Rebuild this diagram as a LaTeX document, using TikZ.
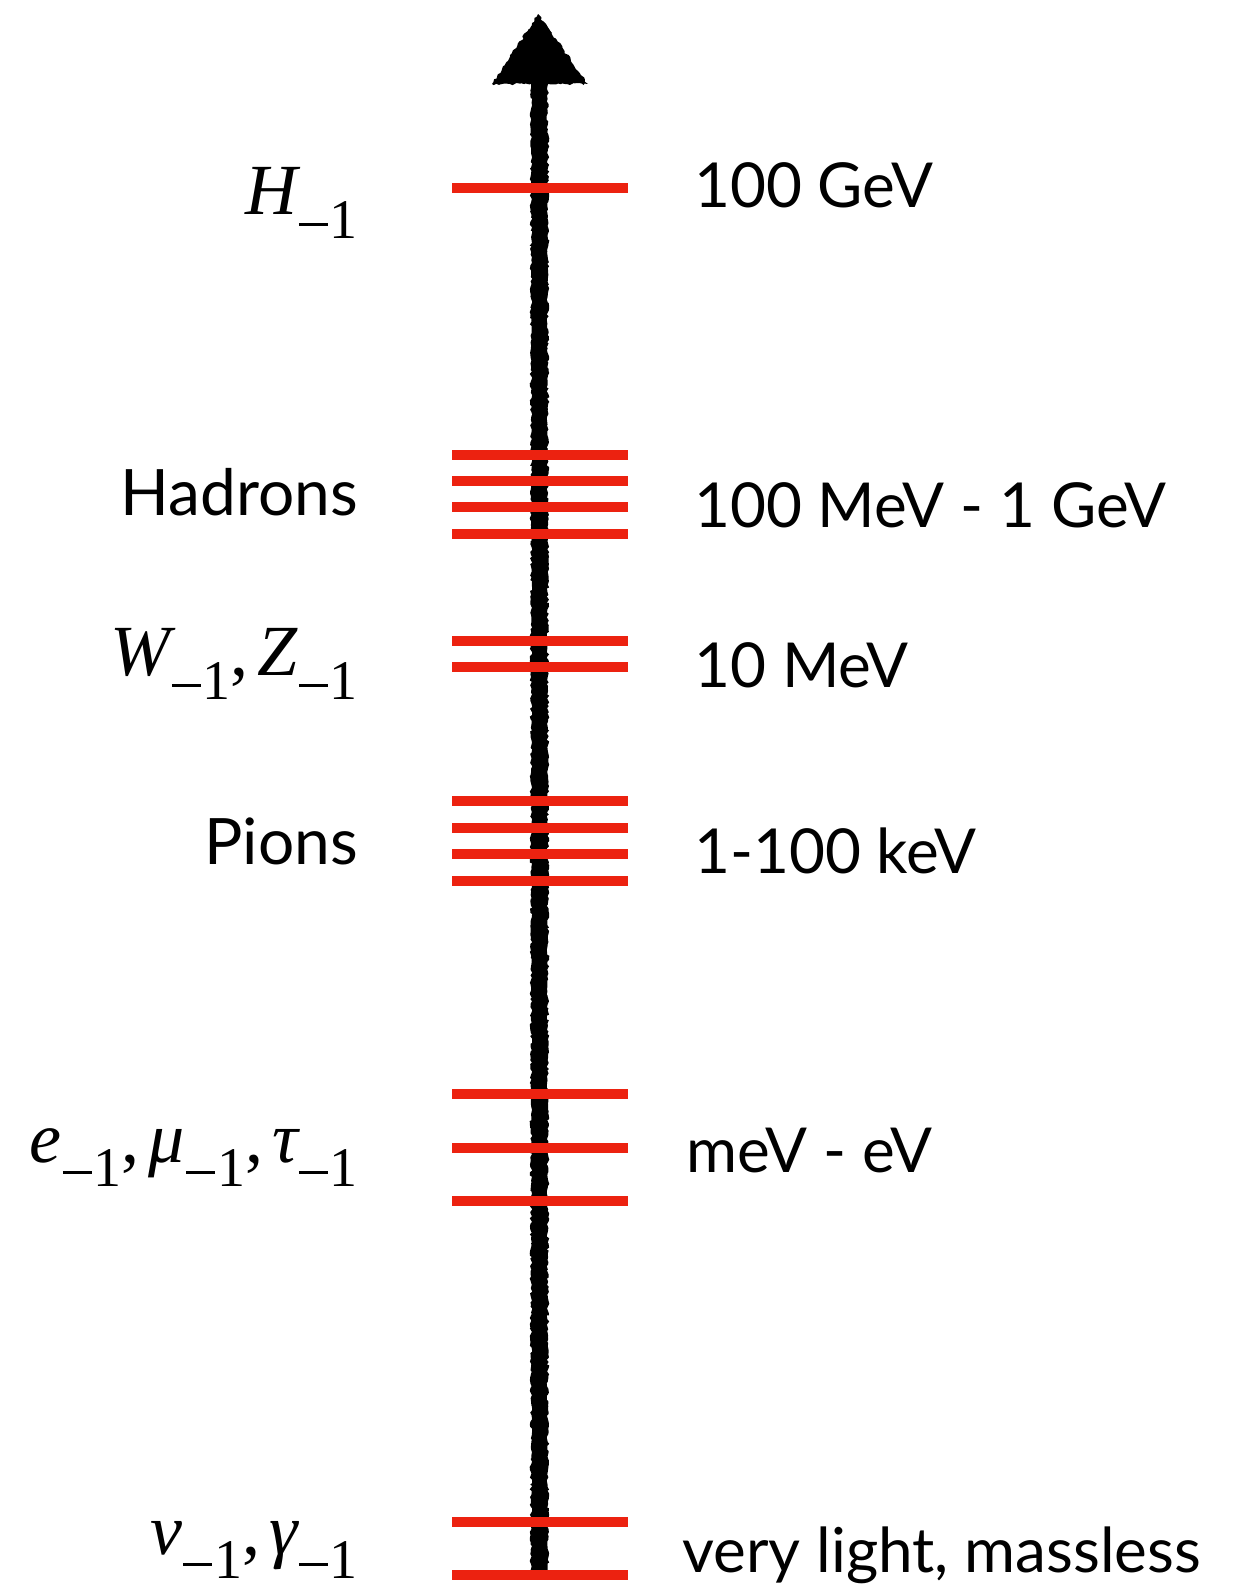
\documentclass[tikz,border=0pt]{standalone}
\usepackage{fontspec}
\setmainfont{Lato}
\newfontfamily\tmfont{Liberation Serif}
\usetikzlibrary{decorations.pathmorphing}
\definecolor{lvl}{RGB}{236,34,16}
\newcommand\Msub{\raisebox{-24pt}{\kern1pt\rule[12pt]{29pt}{3pt}\kern2pt{\tmfont\fontsize{56}{56}\selectfont 1}}}
\newcommand\mi[1]{{\tmfont\fontsize{72}{72}\selectfont\itshape #1}}
\newcommand\mcomma{{\tmfont\fontsize{72}{72}\selectfont,}\kern9pt}
\tikzset{
  lvlline/.style={draw=lvl, line width=10pt},
  rlab/.style={anchor=base west, inner sep=0pt, font=\fontsize{62}{74}\selectfont},
  llab/.style={anchor=base east, inner sep=0pt, font=\fontsize{64}{76}\selectfont},
  roughfill/.style={fill=black, decorate, decoration={random steps, segment length=2.5pt, amplitude=1.3pt}},
}
\begin{document}
\begin{tikzpicture}[x=1pt,y=-1pt]
\useasboundingbox (0,0) rectangle (1244,1584);
\pgfmathsetseed{7}
% rough arrow
\fill[roughfill] (531,1572) -- (531,84) -- (492,84) -- (538,14) -- (588,84) -- (548,84) -- (548,1572) -- cycle;
% levels
\foreach \yy in {188, 455,481,507,534, 641,667, 801,828,854,881, 1094,1148,1201, 1522,1575}
  \draw[lvlline] (452,\yy) -- (628,\yy);
% left labels
\node[llab] (lh) at (358,214) {\mi{H}\Msub};
\node[llab] (lhad) at (358,515) {Hadrons};
\node[llab] (lwz) at (358,675) {\mi{W}\Msub\mcomma\mi{Z}\Msub};
\node[llab] (lpi) at (358,864) {Pions};
\node[llab] (llep) at (358,1162) {\mi{e}\Msub\mcomma\mi{μ}\Msub\mcomma\mi{τ}\Msub};
\node[llab] (lnu) at (358,1554) {\mi{ν}\Msub\mcomma\mi{γ}\Msub};
% right labels
\node[rlab] (r1) at (694,207) {100 GeV};
\node[rlab] (r2) at (694,527) {100 MeV - 1 GeV};
\node[rlab] (r3) at (694,687) {10 MeV};
\node[rlab] (r4) at (694,873) {1-100 keV};
\node[rlab] (r5) at (686,1172) {meV - eV};
\node[rlab] (r6) at (682,1572) {very light, massless};
\end{tikzpicture}
\end{document}
